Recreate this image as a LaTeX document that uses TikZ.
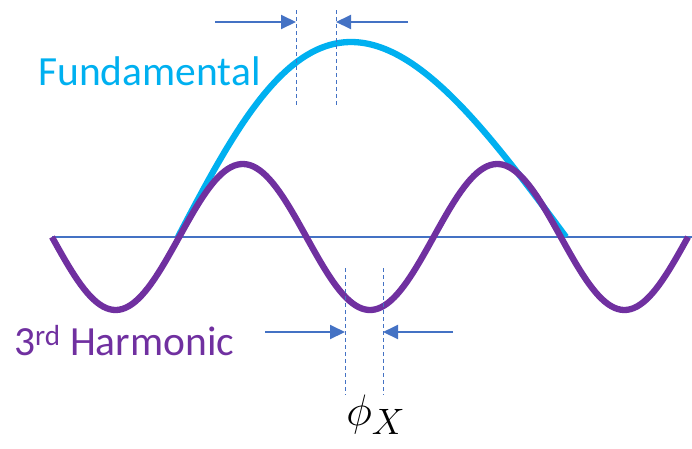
\documentclass[tikz,border=0pt]{standalone}
\usepackage{fontspec}
\setmainfont{Carlito}
\usetikzlibrary{arrows.meta}
\definecolor{fundcol}{HTML}{00B0F0}
\definecolor{harmcol}{HTML}{7030A0}
\definecolor{axcol}{HTML}{4472C4}
\tikzset{
  wave/.style={line width=6.3pt},
  axisline/.style={draw=axcol,line width=1.3pt},
  guide/.style={draw=axcol,line width=1pt,dash pattern=on 4pt off 3pt},
  dimarrow/.style={draw=axcol,line width=2pt,-{Triangle[length=15pt,width=14pt]}},
  lbl/.style={inner sep=0pt,anchor=base west,font=\fontsize{41.5}{50}\selectfont}
}
\begin{document}
\begin{tikzpicture}[x=1pt,y=-1pt]
\useasboundingbox (0,0) rectangle (692,448);
% axis
\coordinate (axL) at (52,237);
\coordinate (axR) at (692,237);
\draw[axisline] (axL) -- (axR);
% fundamental
\draw[wave,draw=fundcol] plot[domain=0:180,samples=120,variable=\t] ({178+2.1556*\t-21*sin(\t)},{237-195*sin(\t)});
% third harmonic
\draw[wave,draw=harmcol] plot[domain=52:688,samples=200,variable=\x] (\x,{237+73*sin(1.41509*(\x-52))});
% top guides
\coordinate (tg1a) at (296,10); \coordinate (tg1b) at (296,107);
\coordinate (tg2a) at (336,10); \coordinate (tg2b) at (336,107);
\draw[guide] (tg1a) -- (tg1b);
\draw[guide] (tg2a) -- (tg2b);
\coordinate (ta1s) at (215,22); \coordinate (ta1e) at (296,22);
\coordinate (ta2s) at (408,22); \coordinate (ta2e) at (336,22);
\draw[dimarrow] (ta1s) -- (ta1e);
\draw[dimarrow] (ta2s) -- (ta2e);
% bottom guides
\coordinate (bg1a) at (345,268); \coordinate (bg1b) at (345,395);
\coordinate (bg2a) at (383,268); \coordinate (bg2b) at (383,395);
\draw[guide] (bg1a) -- (bg1b);
\draw[guide] (bg2a) -- (bg2b);
\coordinate (ba1s) at (265,332); \coordinate (ba1e) at (345,332);
\coordinate (ba2s) at (453,332); \coordinate (ba2e) at (383,332);
\draw[dimarrow] (ba1s) -- (ba1e);
\draw[dimarrow] (ba2s) -- (ba2e);
% labels
\node[lbl,text=fundcol] (fund) at (38,85) {Fundamental};
\node[lbl,text=harmcol] (harm) at (14,355) {3\textsuperscript{rd} Harmonic};
\node[inner sep=0pt,anchor=base,font=\Huge,scale=1.77] (phi) at (376,425) {$\phi_X$};
\end{tikzpicture}
\end{document}
